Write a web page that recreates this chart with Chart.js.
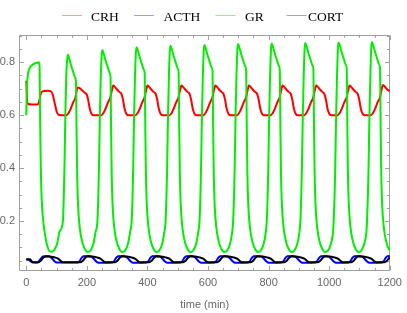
<!DOCTYPE html>
<html><head><meta charset="utf-8">
<script src="https://cdn.jsdelivr.net/npm/chart.js@4/dist/chart.umd.min.js"></script>
<style>html,body{margin:0;padding:0;background:#fff}canvas{display:block}</style>
</head><body>
<canvas id="c" width="407" height="313"></canvas>
<script>
const seriesNames = ["CRH", "ACTH", "GR", "CORT"];
const xTickLabels = [0, 200, 400, 600, 800, 1000, 1200];
const yTickLabels = [0.2, 0.4, 0.6, 0.8];

// [time (min), value]
const CRH = [[0,.73],[1.5,.69],[3,.65],[6,.642],[20,.64],[38,.64],[43,.655],[48,.68],[53,.69],[70,.692],[82,.69],[88,.675],[94,.645],[100,.615],[106,.602],[114,.600],
[133,.600],[139,.607],[145,.62],[156,.651],[162,.665],[166,.69],[170,.705],[176,.702],[184,.694],[192,.686],[199,.679],[204,.66],[210,.622],[216,.604],[223,.600],
[248,.600],[254,.607],[260,.62],[271,.651],[277,.665],[282,.69],[287,.712],[292,.708],[299,.698],[307,.688],[314,.681],[319,.66],[325,.622],[331,.604],[338,.600],
[361,.600],[367,.607],[373,.62],[384,.651],[390,.665],[395,.69],[400,.712],[405,.708],[412,.698],[420,.688],[427,.681],[432,.66],[438,.622],[444,.604],[451,.600],
[473,.600],[479,.607],[485,.62],[496,.651],[502,.665],[507,.69],[512,.712],[517,.708],[524,.698],[532,.688],[539,.681],[544,.66],[550,.622],[556,.604],[563,.600],
[585,.600],[591,.607],[597,.62],[608,.651],[614,.665],[619,.69],[624,.712],[629,.708],[636,.698],[644,.688],[651,.681],[656,.66],[662,.622],[668,.604],[675,.600],
[696,.600],[702,.607],[708,.62],[719,.651],[725,.665],[730,.69],[735,.712],[740,.708],[747,.698],[755,.688],[762,.681],[767,.66],[773,.622],[779,.604],[786,.600],
[807,.600],[813,.607],[819,.62],[830,.651],[836,.665],[841,.69],[846,.712],[851,.708],[858,.698],[866,.688],[873,.681],[878,.66],[884,.622],[890,.604],[897,.600],
[918,.600],[924,.607],[930,.62],[941,.651],[947,.665],[952,.69],[957,.712],[962,.708],[969,.698],[977,.688],[984,.681],[989,.66],[995,.622],[1001,.604],[1008,.600],
[1028,.600],[1034,.607],[1040,.62],[1051,.651],[1057,.665],[1062,.69],[1067,.712],[1072,.708],[1079,.698],[1087,.688],[1094,.681],[1099,.66],[1105,.622],[1111,.604],[1118,.600],
[1138,.600],[1144,.607],[1150,.62],[1161,.651],[1167,.665],[1172,.69],[1177,.714],[1182,.71],[1189,.70],[1200,.69]];

const ACTH = [[0,.055],[8,.053],[15,.047],[22,.043],[36,.043],[42,.048],[48,.058],[55,.066],[67,.068],[77,.066],[85,.058],[93,.048],[101,.043],
[170,.043],[176,.048],[182,.06],[189,.067],[205,.068],[215,.065],[223,.057],[231,.047],[239,.042],
[284,.043],[290,.048],[296,.06],[303,.067],[319,.068],[329,.065],[337,.057],[345,.047],[353,.042],
[397,.043],[403,.048],[409,.06],[416,.067],[432,.068],[442,.065],[450,.057],[458,.047],[466,.042],
[509,.043],[515,.048],[521,.06],[528,.067],[544,.068],[554,.065],[562,.057],[570,.047],[578,.042],
[621,.043],[627,.048],[633,.06],[640,.067],[656,.068],[666,.065],[674,.057],[682,.047],[690,.042],
[732,.043],[738,.048],[744,.06],[751,.067],[767,.068],[777,.065],[785,.057],[793,.047],[801,.042],
[843,.043],[849,.048],[855,.06],[862,.067],[878,.068],[888,.065],[896,.057],[904,.047],[912,.042],
[954,.043],[960,.048],[966,.06],[973,.067],[989,.068],[999,.065],[1007,.057],[1015,.047],[1023,.042],
[1064,.043],[1070,.048],[1076,.06],[1083,.067],[1099,.068],[1109,.065],[1117,.057],[1125,.047],[1133,.042],
[1174,.043],[1180,.048],[1186,.06],[1193,.067],[1200,.068]];

const GR = [[0,.60],[2,.70],[5,.75],[10,.775],[20,.79],[32,.797],[42,.80],[44,.78],[46,.56],[48,.40],[51,.28],[56,.2],[63,.14],[71,.10],[80,.084],[92,.09],[102,.115],[110,.16],
[121,.2],[124,.3],[126,.4],[129,.6],[132,.75],[135,.808],[137,.828],[142,.813],[148,.788],[155,.763],[161,.743],[164,.728],[166,.55],[168,.38],[171,.26],[177,.17],[185,.12],[193,.095],[202,.083],[212,.088],[222,.115],[229,.16],
[235,.2],[238,.3],[240,.4],[243,.6],[246,.75],[249,.826],[251,.846],[256,.831],[262,.806],[269,.781],[275,.761],[278,.746],[280,.55],[282,.38],[285,.26],[291,.17],[299,.12],[307,.095],[316,.083],[326,.088],[336,.115],[343,.16],
[348,.2],[351,.3],[353,.4],[356,.6],[359,.75],[362,.837],[364,.857],[369,.842],[375,.817],[382,.792],[388,.772],[391,.757],[393,.55],[395,.38],[398,.26],[404,.17],[412,.12],[420,.095],[429,.083],[439,.088],[449,.115],[456,.16],
[460,.2],[463,.3],[465,.4],[468,.6],[471,.75],[474,.842],[476,.862],[481,.847],[487,.822],[494,.797],[500,.777],[503,.762],[505,.55],[507,.38],[510,.26],[516,.17],[524,.12],[532,.095],[541,.083],[551,.088],[561,.115],[568,.16],
[572,.2],[575,.3],[577,.4],[580,.6],[583,.75],[586,.845],[588,.865],[593,.85],[599,.825],[606,.8],[612,.78],[615,.765],[617,.55],[619,.38],[622,.26],[628,.17],[636,.12],[644,.095],[653,.083],[663,.088],[673,.115],[680,.16],
[683,.2],[686,.3],[688,.4],[691,.6],[694,.75],[697,.849],[699,.869],[704,.854],[710,.829],[717,.804],[723,.784],[726,.769],[728,.55],[730,.38],[733,.26],[739,.17],[747,.12],[755,.095],[764,.083],[774,.088],[784,.115],[791,.16],
[794,.2],[797,.3],[799,.4],[802,.6],[805,.75],[808,.851],[810,.871],[815,.856],[821,.831],[828,.806],[834,.786],[837,.771],[839,.55],[841,.38],[844,.26],[850,.17],[858,.12],[866,.095],[875,.083],[885,.088],[895,.115],[902,.16],
[905,.2],[908,.3],[910,.4],[913,.6],[916,.75],[919,.853],[921,.873],[926,.858],[932,.833],[939,.808],[945,.788],[948,.773],[950,.55],[952,.38],[955,.26],[961,.17],[969,.12],[977,.095],[986,.083],[996,.088],[1006,.115],[1013,.16],
[1015,.2],[1018,.3],[1020,.4],[1023,.6],[1026,.75],[1029,.855],[1031,.875],[1036,.86],[1042,.835],[1049,.81],[1055,.79],[1058,.775],[1060,.55],[1062,.38],[1065,.26],[1071,.17],[1079,.12],[1087,.095],[1096,.083],[1106,.088],[1116,.115],[1123,.16],
[1125,.2],[1128,.3],[1130,.4],[1133,.6],[1136,.75],[1139,.857],[1141,.877],[1146,.862],[1152,.837],[1159,.812],[1165,.792],[1168,.777],[1170,.55],[1172,.38],[1175,.26],[1181,.17],[1189,.12],[1197,.093],[1200,.09]];

const CORT = [[0,.055],[12,.055],[18,.048],[24,.044],[40,.044],[48,.05],[55,.06],[62,.065],[75,.066],[95,.062],[105,.058],[113,.05],[120,.044],
[179,.044],[187,.05],[194,.06],[202,.066],[217,.066],[235,.062],[245,.058],[253,.05],[261,.044],
[293,.044],[301,.05],[308,.06],[316,.066],[331,.066],[349,.062],[359,.058],[367,.05],[375,.044],
[406,.044],[414,.05],[421,.06],[429,.066],[444,.066],[462,.062],[472,.058],[480,.05],[488,.044],
[518,.044],[526,.05],[533,.06],[541,.066],[556,.066],[574,.062],[584,.058],[592,.05],[600,.044],
[630,.044],[638,.05],[645,.06],[653,.066],[668,.066],[686,.062],[696,.058],[704,.05],[712,.044],
[741,.044],[749,.05],[756,.06],[764,.066],[779,.066],[797,.062],[807,.058],[815,.05],[823,.044],
[852,.044],[860,.05],[867,.06],[875,.066],[890,.066],[908,.062],[918,.058],[926,.05],[934,.044],
[963,.044],[971,.05],[978,.06],[986,.066],[1001,.066],[1019,.062],[1029,.058],[1037,.05],[1045,.044],
[1073,.044],[1081,.05],[1088,.06],[1096,.066],[1111,.066],[1129,.062],[1139,.058],[1147,.05],[1155,.044],
[1183,.044],[1191,.05],[1198,.06],[1200,.062]];

const lineColors = ["#ff0000", "#0000ff", "#00ee00", "#000000"];
const legendColors = ["#ff9a9a", "#9a9aff", "#90ee90", "#a8a8a8"];
const seriesData = [CRH, ACTH, GR, CORT];

const frameColor = "#a0a0a0";
const labelColor = "#666666";

const framePlugin = {
  id: "frame",
  beforeDatasetsDraw(chart) {
    const {ctx, chartArea: a, scales: {x, y}} = chart;
    ctx.save();
    ctx.strokeStyle = frameColor;
    ctx.lineWidth = 1;
    const L = Math.round(a.left) + 0.5, R = Math.round(a.right) - 0.5;
    const T = Math.round(a.top) + 0.5, B = Math.round(a.bottom) - 0.5;
    ctx.beginPath();
    ctx.rect(L, T, R - L, B - T);
    ctx.stroke();
    ctx.beginPath();
    for (let v = 0; v <= 1200; v += 50) {
      const px = Math.round(x.getPixelForValue(v)) + 0.5;
      const len = (v % 200 === 0) ? 4.5 : 2.5;
      ctx.moveTo(px, B); ctx.lineTo(px, B - len);
      ctx.moveTo(px, T); ctx.lineTo(px, T + len);
    }
    for (let i = 1; i <= 18; i++) {
      const v = i * 0.05;
      const py = Math.round(y.getPixelForValue(v)) + 0.5;
      const len = (i % 4 === 0) ? 4.5 : 2.5;
      ctx.moveTo(L, py); ctx.lineTo(L + len, py);
      ctx.moveTo(R, py); ctx.lineTo(R - len, py);
    }
    ctx.stroke();
    ctx.restore();
  },
  afterDraw(chart) {
    const ctx = chart.ctx;
    ctx.save();
    ctx.font = '13.5px "Liberation Serif"';
    ctx.textBaseline = "alphabetic";
    ctx.textAlign = "left";
    const segs = [[62, 82, 91], [134, 154, 163.5], [215.5, 235.5, 245], [286.5, 306.5, 308]];
    seriesNames.forEach((n, i) => {
      const [s, e, t] = segs[i];
      ctx.fillStyle = legendColors[i];
      ctx.fillRect(s, 15, e - s, 1);
      ctx.fillStyle = "#000000";
      ctx.fillText(n, t, 20.5);
    });
    ctx.restore();
  }
};

new Chart(document.getElementById("c"), {
  type: "line",
  data: {
    datasets: seriesNames.map((n, i) => ({
      label: n,
      data: seriesData[i].map(p => ({x: p[0], y: p[1]})),
      borderColor: lineColors[i],
      backgroundColor: lineColors[i],
      borderWidth: 2,
      pointRadius: 0,
      cubicInterpolationMode: "monotone",
      fill: false,
      order: 4 - i
    }))
  },
  options: {
    responsive: false,
    animation: false,
    events: [],
    layout: {padding: {top: 35, right: 13, left: 0, bottom: 0}},
    plugins: {legend: {display: false}, tooltip: {enabled: false}},
    scales: {
      x: {
        type: "linear", min: -24, max: 1202,
        grid: {display: false, drawTicks: false}, border: {display: false},
        afterBuildTicks: s => { s.ticks = xTickLabels.map(v => ({value: v})); },
        afterFit: s => { s.height = 42; },
        ticks: {color: labelColor, font: {family: "Liberation Sans", size: 11}, padding: 5, maxRotation: 0, callback: v => String(v)},
        title: {display: true, text: "time (min)", color: labelColor, font: {family: "Liberation Sans", size: 11}, padding: {top: 0, bottom: 1}}
      },
      y: {
        type: "linear", min: 0.011, max: 0.903,
        grid: {display: false, drawTicks: false}, border: {display: false},
        afterBuildTicks: s => { s.ticks = yTickLabels.map(v => ({value: v})); },
        afterFit: s => { s.width = 19; },
        ticks: {color: labelColor, font: {family: "Liberation Sans", size: 11}, padding: 4, callback: v => v.toFixed(1)}
      }
    }
  },
  plugins: [framePlugin]
});
</script>
</body></html>
